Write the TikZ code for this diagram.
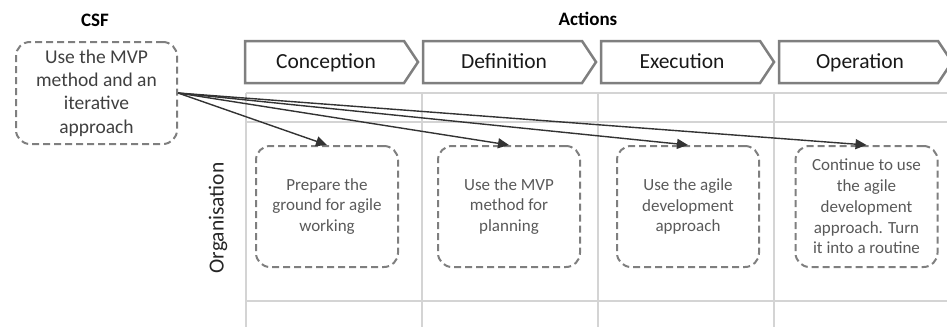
\documentclass[tikz,border=0pt]{standalone}
\usepackage{fontspec}
\setmainfont{Carlito}
\usetikzlibrary{arrows.meta}
\definecolor{boxgray}{HTML}{7F7F7F}
\definecolor{textgray}{HTML}{595959}
\definecolor{gridgray}{HTML}{D4D4D4}
\definecolor{arrowgray}{HTML}{333333}
\tikzset{
  gridline/.style={draw=gridgray, line width=1.2pt},
  stagebox/.style={draw=boxgray, line width=2.5pt, fill=white},
  stagetext/.style={text=black!90, anchor=base, font=\fontsize{21.5}{25}\selectfont},
  titletext/.style={font=\bfseries\fontsize{19}{23}\selectfont},
  dashbox/.style={draw=boxgray, line width=2pt, dash pattern=on 7pt off 4pt, rounded corners=14pt, align=center},
  csfbox/.style={dashbox, text=black!75, minimum width=161pt, minimum height=102pt, font=\fontsize{19.5}{23.3}\selectfont},
  actbox/.style={dashbox, text=textgray, minimum width=142pt, minimum height=121pt, font=\fontsize{17}{20.7}\selectfont},
  flow/.style={draw=arrowgray, line width=1.4pt, -{Triangle[length=11pt,width=10pt]}}
}
\begin{document}
\begin{tikzpicture}[x=1pt,y=-1pt]
\useasboundingbox (0,0) rectangle (947,327);
\foreach \y in {93,122,301}{
\draw [gridline] (246,\y) -- (947,\y);
}
\foreach \x in {246,422,598,774}{
\draw [gridline] (\x,93) -- (\x,327);
}
\foreach \x/\name/\txt in {245/conc/Conception,423/defi/Definition,601/exec/Execution,779/oper/Operation}{
\draw [stagebox] (\x,41) -- (\x+159,41) -- (\x+173,62) -- (\x+159,83) -- (\x,83) -- cycle;
\node [stagetext] (\name) at (\x+81,68) {\txt};
}
\node [titletext] (csftitle) at (95,20) {CSF};
\node [titletext] (acttitle) at (588,19) {Actions};
\node [csfbox] (csf) at (96.5,93) {Use the MVP\\method and an\\iterative\\approach};
\node [rotate=90, text=black!85, font=\fontsize{21.5}{25}\selectfont] (org) at (218,218) {Organisation};
\node [actbox] (prep) at (327,206.5) {Prepare the\\ground for agile\\working};
\node [actbox] (mvp) at (509,206.5) {Use the MVP\\method for\\planning};
\node [actbox] (agile) at (688,206.5) {Use the agile\\development\\approach};
\node [actbox] (routine) at (866.5,206.5) {Continue to use\\the agile\\development\\approach. Turn\\it into a routine};
\foreach \n in {prep,mvp,agile,routine}{
\draw [flow] (csf.east) -- (\n.north);
}
\end{tikzpicture}
\end{document}
